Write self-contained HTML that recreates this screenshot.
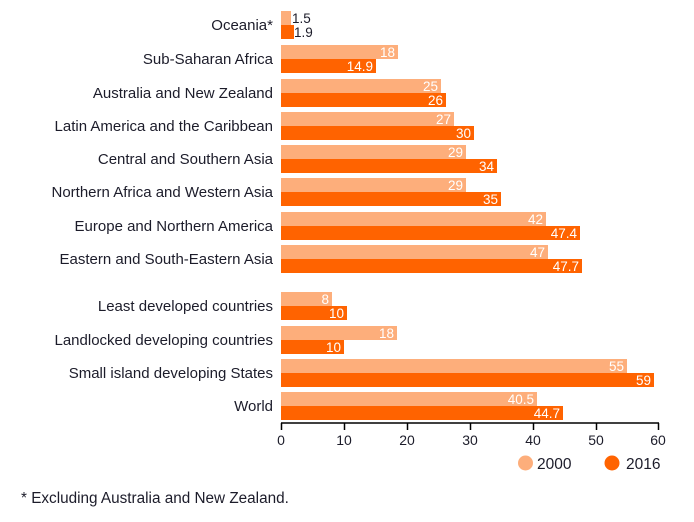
<!DOCTYPE html>
<html><head><meta charset="utf-8"><style>
html,body{margin:0;padding:0;background:#fff;}
svg{display:block;font-family:"Liberation Sans",sans-serif;}
.l{font-size:15px;fill:#1c1c2a;text-anchor:end;}
.v{font-size:13.5px;fill:#fff;text-anchor:end;}
.t{font-size:14px;fill:#1c1c2a;text-anchor:middle;}
</style></head><body>
<svg width="694" height="522" viewBox="0 0 694 522">
<g id="bars"></g>
<line x1="281" y1="423" x2="659" y2="423" stroke="#000" stroke-width="1.5"/>
<g stroke="#000" stroke-width="1.5">
<line x1="281.5" y1="423" x2="281.5" y2="430"/><line x1="344.5" y1="423" x2="344.5" y2="430"/><line x1="407.5" y1="423" x2="407.5" y2="430"/><line x1="470.5" y1="423" x2="470.5" y2="430"/><line x1="533.5" y1="423" x2="533.5" y2="430"/><line x1="596.5" y1="423" x2="596.5" y2="430"/><line x1="658.5" y1="423" x2="658.5" y2="430"/>
</g>
<text class="t" x="281" y="445">0</text><text class="t" x="344" y="445">10</text><text class="t" x="407" y="445">20</text><text class="t" x="470" y="445">30</text><text class="t" x="533" y="445">40</text><text class="t" x="596" y="445">50</text><text class="t" x="658" y="445">60</text>
<circle cx="525.5" cy="463" r="7.5" fill="#fdae7b"/><text x="537" y="469" style="font-size:15.5px;fill:#1c1c2a">2000</text>
<circle cx="612" cy="463" r="7.5" fill="#ff6300"/><text x="626" y="469" style="font-size:15.5px;fill:#1c1c2a">2016</text>
<text x="21" y="503" style="font-size:15.3px;fill:#1c1c2a">* Excluding Australia and New Zealand.</text>
</svg>
<script>
var d=[["Oceania*",11,291,294,"1.5","1.9"],["Sub-Saharan Africa",45,398,376,"18","14.9"],["Australia and New Zealand",79,441,446,"25","26"],["Latin America and the Caribbean",112,454,474,"27","30"],["Central and Southern Asia",145,466,497,"29","34"],["Northern Africa and Western Asia",178,466,501,"29","35"],["Europe and Northern America",212,546,580,"42","47.4"],["Eastern and South-Eastern Asia",245,548,582,"47","47.7"],["Least developed countries",292,332,347,"8","10"],["Landlocked developing countries",326,397,344,"18","10"],["Small island developing States",359,627,654,"55","59"],["World",392,537,563,"40.5","44.7"]];
var s="";
d.forEach(function(r,i){var y=r[1];
s+='<text class="l" x="273" y="'+(y+19)+'">'+r[0]+'</text>';
s+='<rect x="281" y="'+y+'" width="'+(r[2]-281)+'" height="14" fill="#fdae7b"/>';
s+='<rect x="281" y="'+(y+14)+'" width="'+(r[3]-281)+'" height="14" fill="#ff6300"/>';
if(i==0){s+='<text x="292" y="'+(y+12)+'" style="font-size:13.5px;fill:#1c1c2a">'+r[4]+'</text><text x="294" y="'+(y+26)+'" style="font-size:13.5px;fill:#1c1c2a">'+r[5]+'</text>';}
else{s+='<text class="v" x="'+(r[2]-3)+'" y="'+(y+12)+'">'+r[4]+'</text><text class="v" x="'+(r[3]-3)+'" y="'+(y+26)+'">'+r[5]+'</text>';}
});
document.getElementById("bars").innerHTML=s;
</script>
</body></html>
